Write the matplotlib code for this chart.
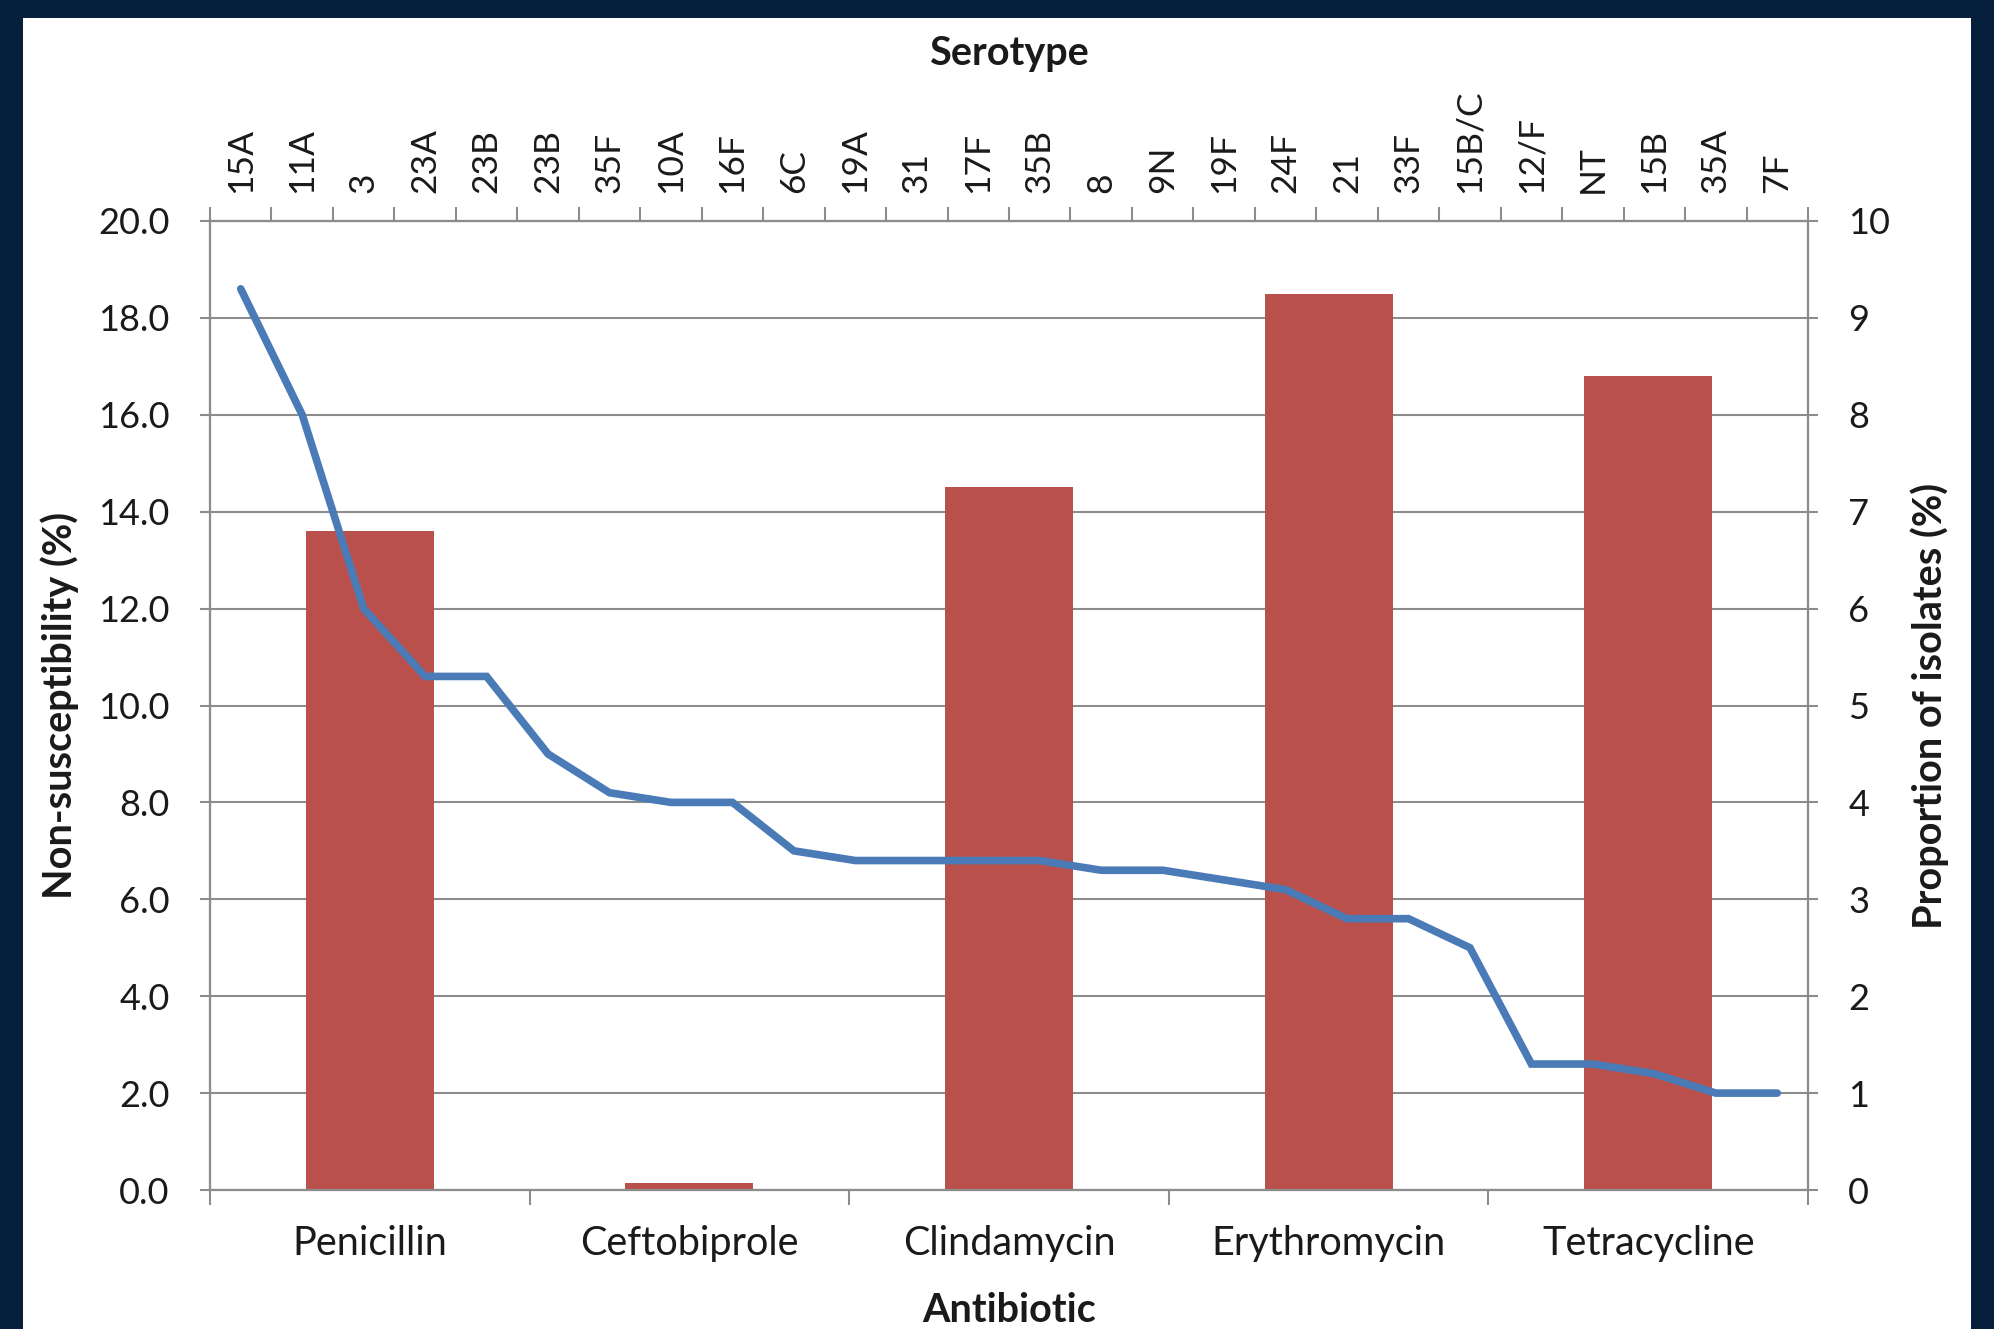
import numpy as np
import matplotlib
matplotlib.use("Agg")
import matplotlib.pyplot as plt
from matplotlib.patches import Rectangle

antibiotics = ["Penicillin", "Ceftobiprole", "Clindamycin", "Erythromycin", "Tetracycline"]
nonsusceptibility = [13.6, 0.15, 14.5, 18.5, 16.8]

serotypes = ["15A", "11A", "3", "23A", "23B", "23B", "35F", "10A", "16F", "6C", "19A", "31", "17F",
             "35B", "8", "9N", "19F", "24F", "21", "33F", "15B/C", "12/F", "NT", "15B", "35A", "7F"]
proportion = [9.3, 8.0, 6.0, 5.3, 5.3, 4.5, 4.1, 4.0, 4.0, 3.5, 3.4, 3.4, 3.4,
              3.4, 3.3, 3.3, 3.2, 3.1, 2.8, 2.8, 2.5, 1.3, 1.3, 1.2, 1.0, 1.0]

left_ticks = [0, 2, 4, 6, 8, 10, 12, 14, 16, 18, 20]
right_ticks = [0, 1, 2, 3, 4, 5, 6, 7, 8, 9, 10]

plt.rcParams['font.family'] = ['Lato', 'DejaVu Sans']
FS_TITLE = 28.5
FS_CAT = 28.5
FS_NUM = 26
FS_SERO = 25.5
TXT = '#1a1a1a'
GRID = '#8c8c8c'
NAVY = '#061f3c'
BAR = '#b9504c'
LINE = '#4a7bb7'

W, H = 1994, 1329
fig = plt.figure(figsize=(W / 100, H / 100), dpi=100)
fig.patch.set_facecolor(NAVY)
fig.patches.append(Rectangle((23 / W, 0), (1971 - 23) / W, 1 - 18 / H,
                             transform=fig.transFigure, facecolor='white',
                             edgecolor='none', zorder=-10))

l, r, t, b = 210 / W, 1808 / W, 1 - 221 / H, 1 - 1190 / H
ax = fig.add_axes([l, b, r - l, t - b])
ax.set_facecolor('white')

x = np.arange(len(antibiotics))
ax.bar(x, nonsusceptibility, width=0.4, color=BAR, zorder=3)
ax.set_xlim(-0.5, len(antibiotics) - 0.5)
ax.set_ylim(0, 20)
ax.set_yticks(left_ticks)
ax.set_yticklabels([f"{v:.1f}" for v in left_ticks])
ax.set_xticks(x)
ax.set_xticklabels(antibiotics)
ax.set_xticks(np.arange(-0.5, len(antibiotics), 1), minor=True)
ax.tick_params(axis='x', which='major', length=0, pad=25, labelsize=FS_CAT, colors=TXT)
ax.tick_params(axis='x', which='minor', length=11, width=1.5, color=GRID, direction='out')
ax.tick_params(axis='y', which='major', length=7, width=1.5, color=GRID, pad=22,
               labelsize=FS_NUM, labelcolor=TXT)
ax.yaxis.grid(True, color=GRID, linewidth=1.5, zorder=0)
ax.set_axisbelow(True)
for s in ax.spines.values():
    s.set_color(GRID)
    s.set_linewidth(1.5)

ax2 = ax.twinx()
ax2.set_ylim(0, 10)
ax2.set_yticks(right_ticks)
ax2.set_yticklabels([str(v) for v in right_ticks])
ax2.tick_params(axis='y', length=7, width=1.5, color=GRID, pad=22, labelsize=FS_NUM,
                labelcolor=TXT)
for s in ax2.spines.values():
    s.set_color(GRID)
    s.set_linewidth(1.5)

ax3 = ax2.twiny()
xs = np.arange(len(serotypes))
ax3.plot(xs, proportion, color=LINE, linewidth=5.5, solid_capstyle='round',
         solid_joinstyle='miter', zorder=5)
ax3.set_xlim(-0.5, len(serotypes) - 0.5)
ax3.set_ylim(0, 10)
ax3.set_xticks(xs)
ax3.set_xticklabels(serotypes, rotation=90)
ax3.set_xticks(np.arange(-0.5, len(serotypes), 1), minor=True)
ax3.tick_params(axis='x', which='major', length=0, pad=20, labelsize=FS_SERO, colors=TXT)
ax3.tick_params(axis='x', which='minor', length=10, width=1.5, color=GRID, direction='out')
for s in ax3.spines.values():
    s.set_color(GRID)
    s.set_linewidth(1.5)

fig.text((l + r) / 2, 1 - 53 / H, "Serotype", ha='center', va='center',
         fontsize=FS_TITLE, fontweight='bold', color=TXT)
fig.text((l + r) / 2, 1 - 1310 / H, "Antibiotic", ha='center', va='center',
         fontsize=FS_TITLE, fontweight='bold', color=TXT)
fig.text(60 / W, (t + b) / 2, "Non-susceptibility (%)", ha='center', va='center',
         rotation=90, fontsize=FS_TITLE, fontweight='bold', color=TXT)
fig.text(1930 / W, (t + b) / 2, "Proportion of isolates (%)", ha='center', va='center',
         rotation=90, fontsize=FS_TITLE, fontweight='bold', color=TXT)

fig.savefig("out.png", dpi=100, facecolor=fig.get_facecolor())
